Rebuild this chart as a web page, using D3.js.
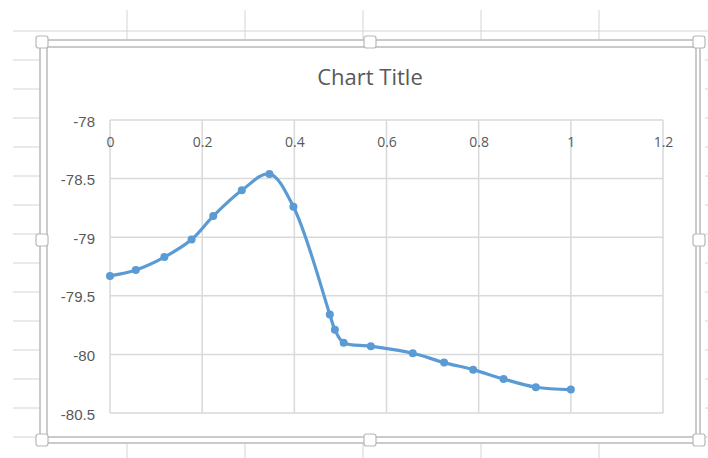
<!DOCTYPE html>
<html><head><meta charset="utf-8">
<script src="https://cdn.jsdelivr.net/npm/d3@7"></script>
<style>html,body{margin:0;padding:0;background:#fff;}svg{display:block;}</style>
</head><body>
<svg id="c" width="708" height="458"></svg>
<script>
// ---- data ----
const xValues = [0, 0.056, 0.118, 0.177, 0.224, 0.286, 0.346, 0.398, 0.477, 0.488, 0.507, 0.566, 0.657, 0.725, 0.788, 0.854, 0.924, 1.0];
const yValues = [-79.33, -79.28, -79.17, -79.02, -78.82, -78.60, -78.46, -78.74, -79.66, -79.79, -79.90, -79.93, -79.99, -80.07, -80.13, -80.21, -80.28, -80.30];
const xTicks = [0, 0.2, 0.4, 0.6, 0.8, 1, 1.2];
const yTicks = [-78, -78.5, -79, -79.5, -80, -80.5];
const chartTitle = "Chart Title";
// spreadsheet decoration
const sheetColumns = [127, 245, 363, 481, 599];
const sheetRows = [60, 89, 118, 147, 176, 205, 234, 263, 292, 321, 350, 379, 408, 437];

const svg = d3.select("#c");
const grey = "#d4d4d4";

// spreadsheet background lines
svg.append("line").attr("x1", 13).attr("x2", 708).attr("y1", 31).attr("y2", 31).attr("stroke", grey).attr("stroke-width", 1);
sheetColumns.forEach(x => {
  svg.append("line").attr("x1", x).attr("x2", x).attr("y1", 10).attr("y2", 40).attr("stroke", grey);
  svg.append("line").attr("x1", x).attr("x2", x).attr("y1", 443).attr("y2", 458).attr("stroke", grey);
});
sheetRows.forEach(y => {
  svg.append("line").attr("x1", 13).attr("x2", 40).attr("y1", y).attr("y2", y).attr("stroke", grey);
  svg.append("line").attr("x1", 705).attr("x2", 708).attr("y1", y).attr("y2", y).attr("stroke", grey);
});

// chart frame (double border)
svg.append("rect").attr("x", 40).attr("y", 40).attr("width", 660).attr("height", 403)
  .attr("fill", "#fff").attr("stroke", "#bdbdbd").attr("stroke-width", 1.6);
svg.append("rect").attr("x", 47).attr("y", 47).attr("width", 649).attr("height", 390)
  .attr("fill", "#fff").attr("stroke", "#bdbdbd").attr("stroke-width", 1.6);

// scales
const x = d3.scaleLinear().domain([0, 1.2]).range([110, 663]);
const y = d3.scaleLinear().domain([-80.5, -78]).range([413, 120]);

const g = svg.append("g");
// gridlines
g.selectAll(".vg").data(xTicks).enter().append("line")
  .attr("x1", d => x(d)).attr("x2", d => x(d)).attr("y1", y(-78)).attr("y2", y(-80.5))
  .attr("stroke", "#d9d9d9").attr("stroke-width", 1.5);
g.selectAll(".hg").data(yTicks).enter().append("line")
  .attr("x1", x(0)).attr("x2", x(1.2)).attr("y1", d => y(d)).attr("y2", d => y(d))
  .attr("stroke", "#d9d9d9").attr("stroke-width", 1.5);

// axes (labels only)
const fmt = d => String(d);
const yAxis = d3.axisLeft(y).tickValues(yTicks).tickFormat(fmt).tickSize(0).tickPadding(15);
const ya = svg.append("g").attr("transform", `translate(${x(0)},0)`).call(yAxis);
ya.select(".domain").remove();
ya.selectAll("text").attr("font-family", "'Liberation Sans', Arial, sans-serif").attr("font-size", 15).attr("fill", "#595959").attr("dy", "0.4em");

const xAxis = d3.axisBottom(x).tickValues(xTicks).tickFormat(fmt).tickSize(0).tickPadding(17);
const xa = svg.append("g").attr("transform", `translate(0,${y(-78)})`).call(xAxis);
xa.select(".domain").remove();
xa.selectAll("text").attr("font-family", "'Open Sans', sans-serif").attr("font-size", 14).attr("fill", "#595959");

// title
svg.append("text").attr("x", 370).attr("y", 85).attr("text-anchor", "middle")
  .attr("font-family", "'Open Sans', sans-serif").attr("font-size", 22).attr("fill", "#595959").text(chartTitle);

// series
const pts = xValues.map((v, i) => [v, yValues[i]]);
const line = d3.line().x(d => x(d[0])).y(d => y(d[1])).curve(d3.curveCatmullRom.alpha(0.5));
svg.append("path").attr("d", line(pts)).attr("fill", "none").attr("stroke", "#5b9bd5").attr("stroke-width", 3.2);
svg.selectAll(".pt").data(pts).enter().append("circle")
  .attr("cx", d => x(d[0])).attr("cy", d => y(d[1])).attr("r", 4).attr("fill", "#5b9bd5");

// selection handles
const hx = [42, 370, 699], hy = [42, 240, 440];
hx.forEach((cx, i) => hy.forEach((cy, j) => {
  if (i === 1 && j === 1) return;
  svg.append("rect").attr("x", cx - 6).attr("y", cy - 6).attr("width", 12).attr("height", 12).attr("rx", 2.5)
    .attr("fill", "#fff").attr("stroke", "#b8b8b8").attr("stroke-width", 1.2);
}));
</script>
</body></html>
